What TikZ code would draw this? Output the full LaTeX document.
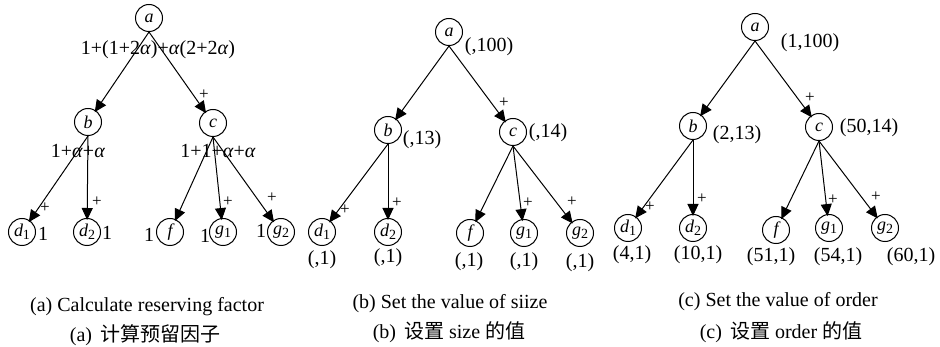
\documentclass[tikz,border=0pt]{standalone}
\usepackage{fontspec}
\setmainfont{Liberation Serif}
\newfontfamily\cjk{Noto Sans CJK SC}
\usetikzlibrary{arrows.meta}
\newcommand{\mysub}[1]{\raisebox{-3pt}{\upshape\fontsize{14}{14}\selectfont #1}}
\begin{document}
\begin{tikzpicture}[x=1pt,y=-1pt,
 vtx/.style={circle,draw,line width=1pt,minimum size=27pt,inner sep=0pt,font=\fontsize{18}{18}\selectfont\itshape},
 lbl/.style={font=\fontsize{20}{20}\selectfont,inner sep=0pt},
 pl/.style={font=\fontsize{17}{17}\selectfont,inner sep=0pt},
 captxt/.style={font=\fontsize{20}{20}\selectfont,inner sep=0pt},
 edge/.style={line width=1pt,shorten >=-2pt,-{Triangle[length=12pt,width=11pt]}}]
\useasboundingbox[fill=white] (0,0) rectangle (940,347);
% ---------- panel (a)
\node[vtx] (aa) at (149,18) {a};
\node[vtx] (ab) at (88,122) {b};
\node[vtx] (ac) at (213,123) {c};
\node[vtx] (ad1) at (22,232) {d\mysub{1}};
\node[vtx] (ad2) at (87,232) {d\mysub{2}};
\node[vtx] (af) at (170,232) {f};
\node[vtx] (ag1) at (223,232) {g\mysub{1}};
\node[vtx] (ag2) at (281,232) {g\mysub{2}};
\draw[edge] (aa.south) -- (ab);
\draw[edge] (aa.south) -- (ac);
\draw[edge] (ab.south) -- (ad1);
\draw[edge] (ab.south) -- (ad2);
\draw[edge] (ac.south) -- (af);
\draw[edge] (ac.south) -- (ag1);
\draw[edge] (ac.south) -- (ag2);
\node[lbl] (la1) at (158,50) {1+(1+2\textit{α})+\textit{α}(2+2\textit{α})};
\node[lbl] (la2) at (78,151) {1+\textit{α}+\textit{α}};
\node[lbl] (la3) at (218,151) {1+1+\textit{α}+\textit{α}};
\node[pl] (pa1) at (204,95) {+};
\node[pl] (pa2) at (45,208) {+};
\node[pl] (pa3) at (97,202) {+};
\node[pl] (pa4) at (228,202) {+};
\node[pl] (pa5) at (272,198) {+};
\node[lbl] (va1) at (43,234) {1};
\node[lbl] (va2) at (107,233) {1};
\node[lbl] (va3) at (149,235) {1};
\node[lbl] (va4) at (205,236) {1};
\node[lbl] (va5) at (261,231) {1};
\node[captxt] (ca1) at (147,307) {(a) Calculate reserving factor};
\node[captxt] (ca2) at (145,335) {(a)\hspace{8pt}{\cjk 计算预留因子}};
% ---------- panel (b)
\node[vtx] (ba) at (449,32) {a};
\node[vtx] (bb) at (388,130) {b};
\node[vtx] (bc) at (513,132) {c};
\node[vtx] (bd1) at (322,232) {d\mysub{1}};
\node[vtx] (bd2) at (388,232) {d\mysub{2}};
\node[vtx] (bf) at (470,233) {f};
\node[vtx] (bg1) at (524,233) {g\mysub{1}};
\node[vtx] (bg2) at (580,233) {g\mysub{2}};
\draw[edge] (ba.south) -- (bb);
\draw[edge] (ba.south) -- (bc);
\draw[edge] (bb.south) -- (bd1);
\draw[edge] (bb.south) -- (bd2);
\draw[edge] (bc.south) -- (bf);
\draw[edge] (bc.south) -- (bg1);
\draw[edge] (bc.south) -- (bg2);
\node[lbl] (lb1) at (489,47) {(,100)};
\node[lbl] (lb2) at (422,140) {(,13)};
\node[lbl] (lb3) at (548,133) {(,14)};
\node[pl] (pb1) at (504,103) {+};
\node[pl] (pb2) at (345,210) {+};
\node[pl] (pb3) at (397,203) {+};
\node[pl] (pb4) at (528,203) {+};
\node[pl] (pb5) at (572,202) {+};
\node[lbl] (vb1) at (322,260) {(,1)};
\node[lbl] (vb2) at (388,258) {(,1)};
\node[lbl] (vb3) at (469,262) {(,1)};
\node[lbl] (vb4) at (524,262) {(,1)};
\node[lbl] (vb5) at (580,263) {(,1)};
\node[captxt] (cb1) at (450,304) {(b) Set the value of siize};
\node[captxt] (cb2) at (449,332) {(b)\hspace{8pt}{\cjk 设置} size {\cjk 的值}};
% ---------- panel (c)
\node[vtx] (ca) at (755,27) {a};
\node[vtx] (cb) at (693,126) {b};
\node[vtx] (cc) at (819,127) {c};
\node[vtx] (cd1) at (628,228) {d\mysub{1}};
\node[vtx] (cd2) at (693,228) {d\mysub{2}};
\node[vtx] (cf) at (776,230) {f};
\node[vtx] (cg1) at (829,228) {g\mysub{1}};
\node[vtx] (cg2) at (885,228) {g\mysub{2}};
\draw[edge] (ca.south) -- (cb);
\draw[edge] (ca.south) -- (cc);
\draw[edge] (cb.south) -- (cd1);
\draw[edge] (cb.south) -- (cd2);
\draw[edge] (cc.south) -- (cf);
\draw[edge] (cc.south) -- (cg1);
\draw[edge] (cc.south) -- (cg2);
\node[lbl] (lc1) at (810,43) {(1,100)};
\node[lbl] (lc2) at (737,135) {(2,13)};
\node[lbl] (lc3) at (869,128) {(50,14)};
\node[pl] (pc1) at (810,98) {+};
\node[pl] (pc2) at (650,207) {+};
\node[pl] (pc3) at (702,199) {+};
\node[pl] (pc4) at (833,200) {+};
\node[pl] (pc5) at (876,197) {+};
\node[lbl] (vc1) at (632,255) {(4,1)};
\node[lbl] (vc2) at (698,255) {(10,1)};
\node[lbl] (vc3) at (771,257) {(51,1)};
\node[lbl] (vc4) at (838,257) {(54,1)};
\node[lbl] (vc5) at (911,257) {(60,1)};
\node[captxt] (cc1) at (778,302) {(c) Set the value of order};
\node[captxt] (cc2) at (781,332) {(c)\hspace{8pt}{\cjk 设置} order {\cjk 的值}};
\end{tikzpicture}
\end{document}
